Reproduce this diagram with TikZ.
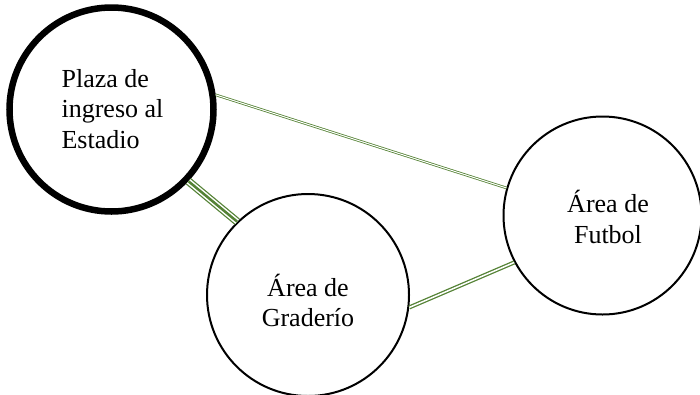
\documentclass[tikz,border=0pt]{standalone}
\usepackage{fontspec}
\setmainfont{Liberation Serif}
\definecolor{lgreen}{HTML}{548235}
\tikzset{
  area/.style={circle, draw=black, line width=2pt, fill=white, inner sep=0pt},
  lbl/.style={font=\fontsize{26}{30.7}\selectfont, align=center, inner sep=0pt},
  dbl/.style={draw=lgreen, double=white, line width=1.3pt, double distance=1.5pt},
  dblthin/.style={draw=lgreen, double=white, line width=0.8pt, double distance=1pt},
}
\begin{document}
\begin{tikzpicture}[x=1pt, y=-1pt]
\useasboundingbox (0,0) rectangle (700,394);
\node[area, line width=6.5pt, minimum size=204pt] (plaza) at (111.5,109.5) {};
\node[area, minimum size=202pt] (grad) at (308,295) {};
\node[area, minimum size=198pt] (futbol) at (602.5,215.5) {};
\node[lbl, align=left] (t1) at (112.5,109) {Plaza de\\ingreso al\\Estadio};
\node[lbl] (t2) at (308,300.5) {Área de\\Graderío};
\node[lbl] (t3) at (608,217) {Área de\\Futbol};
\draw[dblthin] (plaza.8) -- (futbol.164);
\draw[dbl] (grad.-7) -- (futbol.208);
\draw[lgreen, line width=8pt] (plaza.-43) -- (grad.134);
\draw[white, line width=5.5pt] (plaza.-43) -- (grad.134);
\draw[lgreen, line width=2.5pt] (plaza.-43) -- (grad.134);
\end{tikzpicture}
\end{document}
